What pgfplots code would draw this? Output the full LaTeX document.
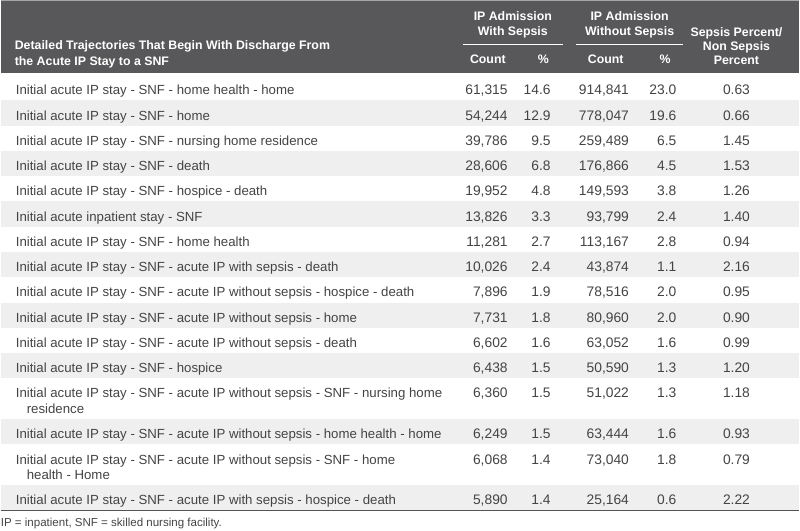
\documentclass[border=0pt]{standalone}
\usepackage{fontspec}
\setmainfont{Liberation Sans}
\usepackage{pgfplots}
\usepackage{pgfplotstable}
\pgfplotsset{compat=1.18}

\definecolor{hdr}{HTML}{58585A}
\definecolor{rowgray}{HTML}{EFEFEF}
\definecolor{txt}{HTML}{444444}
\definecolor{rule}{HTML}{555555}

\newcommand\bodyfont{\fontsize{13.3}{15}\selectfont}
\newcommand\numfont{\fontsize{13.9}{15}\selectfont}
\newcommand\hfont{\fontsize{12.4}{14}\selectfont\bfseries}

% baseline of each row, then the values
\pgfplotstableread[col sep=semicolon]{
y;c1;p1;c2;p2;r
95.0;61315;14.6;914841;23.0;0.63
120.3;54244;12.9;778047;19.6;0.66
145.6;39786;9.5;259489;6.5;1.45
170.9;28606;6.8;176866;4.5;1.53
196.2;19952;4.8;149593;3.8;1.26
221.5;13826;3.3;93799;2.4;1.40
246.8;11281;2.7;113167;2.8;0.94
272.1;10026;2.4;43874;1.1;2.16
297.4;7896;1.9;78516;2.0;0.95
322.7;7731;1.8;80960;2.0;0.90
348.0;6602;1.6;63052;1.6;0.99
373.3;6438;1.5;50590;1.3;1.20
398.6;6360;1.5;51022;1.3;1.18
439.3;6249;1.5;63444;1.6;0.93
465.0;6068;1.4;73040;1.8;0.79
505.3;5890;1.4;25164;0.6;2.22
}\rows

\pgfplotstableread[col sep=semicolon]{
x;y;label
15;95.0;Initial acute IP stay - SNF - home health - home
15;120.3;Initial acute IP stay - SNF - home
15;145.6;Initial acute IP stay - SNF - nursing home residence
15;170.9;Initial acute IP stay - SNF - death
15;196.2;Initial acute IP stay - SNF - hospice - death
15;221.5;Initial acute inpatient stay - SNF
15;246.8;Initial acute IP stay - SNF - home health
15;272.1;Initial acute IP stay - SNF - acute IP with sepsis - death
15;297.4;Initial acute IP stay - SNF - acute IP without sepsis - hospice - death
15;322.7;Initial acute IP stay - SNF - acute IP without sepsis - home
15;348.0;Initial acute IP stay - SNF - acute IP without sepsis - death
15;373.3;Initial acute IP stay - SNF - hospice
15;398.6;Initial acute IP stay - SNF - acute IP without sepsis - SNF - nursing home
26;413.9;residence
15;439.3;Initial acute IP stay - SNF - acute IP without sepsis - home health - home
15;465.0;Initial acute IP stay - SNF - acute IP without sepsis - SNF - home
26;480.3;health - Home
15;505.3;Initial acute IP stay - SNF - acute IP with sepsis - hospice - death
}\labels

\pgfplotsset{
  cell/.style={only marks, mark=*, mark size=0pt, mark options={draw=none,fill=none},
    point meta=explicit, nodes near coords,
    every node near coord/.append style={inner sep=0pt, font=\numfont, text=txt, anchor=base east}},
}

\begin{document}
\begin{tikzpicture}
\begin{axis}[
    scale only axis, width=800bp, height=531bp,
    xmin=0, xmax=800, ymin=0, ymax=531, y dir=reverse,
    hide axis, clip=false,
]
% page and header band
\addplot[fill=white, draw=none] coordinates {(0,0) (800,0) (800,531) (0,531)} -- cycle;
\addplot[fill=hdr, draw=none] coordinates {(0,0) (800,0) (800,73.3) (0,73.3)} -- cycle;
\addplot[draw=gray!70, line width=1.2bp] coordinates {(0,0.6) (800,0.6)};

% shaded rows
\addplot[fill=rowgray, draw=none] coordinates {(0,100.6) (800,100.6) (800,125.9) (0,125.9)} -- cycle;
\addplot[fill=rowgray, draw=none] coordinates {(0,151.2) (800,151.2) (800,176.5) (0,176.5)} -- cycle;
\addplot[fill=rowgray, draw=none] coordinates {(0,201.8) (800,201.8) (800,227.1) (0,227.1)} -- cycle;
\addplot[fill=rowgray, draw=none] coordinates {(0,252.4) (800,252.4) (800,277.7) (0,277.7)} -- cycle;
\addplot[fill=rowgray, draw=none] coordinates {(0,303.0) (800,303.0) (800,328.3) (0,328.3)} -- cycle;
\addplot[fill=rowgray, draw=none] coordinates {(0,353.6) (800,353.6) (800,378.9) (0,378.9)} -- cycle;
\addplot[fill=rowgray, draw=none] coordinates {(0,419.7) (800,419.7) (800,445.0) (0,445.0)} -- cycle;
\addplot[fill=rowgray, draw=none] coordinates {(0,485.8) (800,485.8) (800,511.1) (0,511.1)} -- cycle;
\addplot[draw=rule, line width=1.3bp] coordinates {(0,511.1) (800,511.1)};

% header text
\node[anchor=base west, text=white, font=\hfont, inner sep=0pt] at (axis cs:14,50) {Detailed Trajectories That Begin With Discharge From};
\node[anchor=base west, text=white, font=\hfont, inner sep=0pt] at (axis cs:14,66) {the Acute IP Stay to a SNF};
\node[anchor=base, text=white, font=\hfont, inner sep=0pt] at (axis cs:513,21) {IP Admission};
\node[anchor=base, text=white, font=\hfont, inner sep=0pt] at (axis cs:513,35.3) {With Sepsis};
\node[anchor=base, text=white, font=\hfont, inner sep=0pt] at (axis cs:630,21) {IP Admission};
\node[anchor=base, text=white, font=\hfont, inner sep=0pt] at (axis cs:630,35.3) {Without Sepsis};
\draw[white, line width=0.9bp] (axis cs:463,44.3) -- (axis cs:563,44.3);
\draw[white, line width=0.9bp] (axis cs:576,44.3) -- (axis cs:683,44.3);
\node[anchor=base, text=white, font=\hfont, inner sep=0pt] at (axis cs:488,63.6) {Count};
\node[anchor=base, text=white, font=\hfont, inner sep=0pt] at (axis cs:543.5,63.6) {\%};
\node[anchor=base, text=white, font=\hfont, inner sep=0pt] at (axis cs:606,63.6) {Count};
\node[anchor=base, text=white, font=\hfont, inner sep=0pt] at (axis cs:665.5,63.6) {\%};
\node[anchor=base, text=white, font=\hfont, inner sep=0pt] at (axis cs:737,36.7) {Sepsis Percent/};
\node[anchor=base, text=white, font=\hfont, inner sep=0pt] at (axis cs:737,50.7) {Non Sepsis};
\node[anchor=base, text=white, font=\hfont, inner sep=0pt] at (axis cs:737,64.7) {Percent};

% row labels
\addplot[cell, point meta=explicit symbolic,
  every node near coord/.append style={anchor=base west, font=\bodyfont}]
  table[x=x, y=y, meta=label] {\labels};

% values
\addplot[cell, nodes near coords={\pgfmathprintnumber[fixed,precision=0,1000 sep={,},assume math mode=true]{\pgfplotspointmeta}}]
  table[x expr=508, y=y, meta=c1] {\rows};
\addplot[cell, nodes near coords={\pgfmathprintnumber[fixed,fixed zerofill,precision=1,assume math mode=true]{\pgfplotspointmeta}}]
  table[x expr=551, y=y, meta=p1] {\rows};
\addplot[cell, nodes near coords={\pgfmathprintnumber[fixed,precision=0,1000 sep={,},assume math mode=true]{\pgfplotspointmeta}}]
  table[x expr=629.5, y=y, meta=c2] {\rows};
\addplot[cell, nodes near coords={\pgfmathprintnumber[fixed,fixed zerofill,precision=1,assume math mode=true]{\pgfplotspointmeta}}]
  table[x expr=677, y=y, meta=p2] {\rows};
\addplot[cell, every node near coord/.append style={anchor=base},
  nodes near coords={\pgfmathprintnumber[fixed,fixed zerofill,precision=2,assume math mode=true]{\pgfplotspointmeta}}]
  table[x expr=737, y=y, meta=r] {\rows};

% footnote
\node[anchor=base west, text=txt, inner sep=0pt, font=\fontsize{11.6}{13}\selectfont] at (axis cs:0,527) {IP = inpatient, SNF = skilled nursing facility.};
\end{axis}
\end{tikzpicture}
\end{document}
